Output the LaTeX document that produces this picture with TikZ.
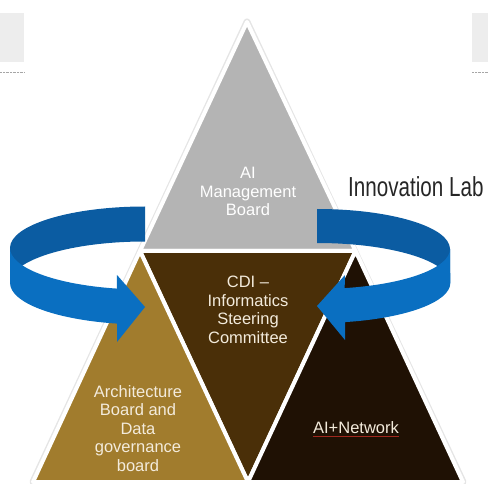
\documentclass[tikz,border=0pt]{standalone}
\usepackage{graphicx}
\usepackage{fontspec}
\setmainfont{Liberation Sans}

\definecolor{triGray}{HTML}{B4B4B4}
\definecolor{triBrown}{HTML}{4A2F08}
\definecolor{triGold}{HTML}{A17C2D}
\definecolor{triBlack}{HTML}{1F1104}
\definecolor{ribbonBack}{HTML}{0B5CA2}
\definecolor{ribbonFront}{HTML}{0A6FC1}
\definecolor{txtCream}{HTML}{F3EBDC}
\definecolor{linkRed}{HTML}{A0281E}

\begin{document}
\begin{tikzpicture}[x=1pt,y=-1pt,
    part/.style={draw=white,line width=4pt,line join=round},
    lbl/.style={inner sep=0pt,align=center,font=\fontsize{16.5}{18.5}\selectfont},
    back/.style={fill=ribbonBack},
    front/.style={fill=ribbonFront}]

    \useasboundingbox (0,0) rectangle (488,484);

    % Screen leftovers in the corners
    \fill[black!7] (0,13) rectangle (24,62);
    \fill[black!7] (472,13) rectangle (488,62);
    \draw[black!35,densely dotted] (0,72) -- (24,72);
    \draw[black!35,densely dotted] (472,72) -- (488,72);

    % Corners of the big triangle and its midpoints
    \coordinate (top) at (247,22);
    \coordinate (bl) at (33,482);
    \coordinate (br) at (463,482);
    \coordinate (ml) at (140,251);
    \coordinate (mr) at (355.5,251);
    \coordinate (mb) at (248,482);

    % Draw the four triangles
    \draw[black!10,line width=7pt,line join=round] (top) -- (bl) -- (br) -- cycle;
    \filldraw[part,fill=triGray] (top) -- (ml) -- (mr) -- cycle;
    \filldraw[part,fill=triBrown] (ml) -- (mr) -- (mb) -- cycle;
    \filldraw[part,fill=triGold] (ml) -- (bl) -- (mb) -- cycle;
    \filldraw[part,fill=triBlack] (mr) -- (mb) -- (br) -- cycle;

    % Left ribbon arrow
    \fill[back] (145,206.5) arc[start angle=270,end angle=180,x radius=135,y radius=41.5]
        -- ++(0,35) arc[start angle=180,end angle=270,x radius=135,y radius=41.5] -- cycle;
    \fill[front] (10,248) arc[start angle=180,end angle=102,x radius=135,y radius=41.5]
        -- (117,275) -- (145,307) -- (117,342) -- (117,323.6)
        arc[start angle=102,end angle=180,x radius=135,y radius=41.5] -- cycle;

    % Right ribbon arrow
    \fill[back] (317,209) arc[start angle=270,end angle=360,x radius=133,y radius=40]
        -- ++(0,34) arc[start angle=360,end angle=270,x radius=133,y radius=40] -- cycle;
    \fill[front] (450,249) arc[start angle=0,end angle=78,x radius=133,y radius=40]
        -- (345,275) -- (317,306) -- (345,340) -- (345,322.1)
        arc[start angle=78,end angle=0,x radius=133,y radius=40] -- cycle;

    % Place the labels
    \node[lbl,anchor=north,text=white] (mgmt) at (248,167) {AI\\Management\\Board};
    \node[lbl,anchor=north,text=txtCream] (cdi) at (248,276) {CDI –\\Informatics\\Steering\\Committee};
    \node[lbl,anchor=north,text=txtCream] (arch) at (138,385) {Architecture\\Board and\\Data\\governance\\board};
    \node[lbl,anchor=base,text=txtCream] (net) at (356,433) {AI+Network};
    \draw[linkRed,line width=0.8pt] ([yshift=-3.5pt]net.base west) -- ([yshift=-3.5pt]net.base east);
    \node[anchor=base west,inner sep=0pt,text=black!85] (lab) at (348,197)
        {\fontsize{27.5}{30}\selectfont\scalebox{0.75}[1]{Innovation Lab}};

\end{tikzpicture}
\end{document}
